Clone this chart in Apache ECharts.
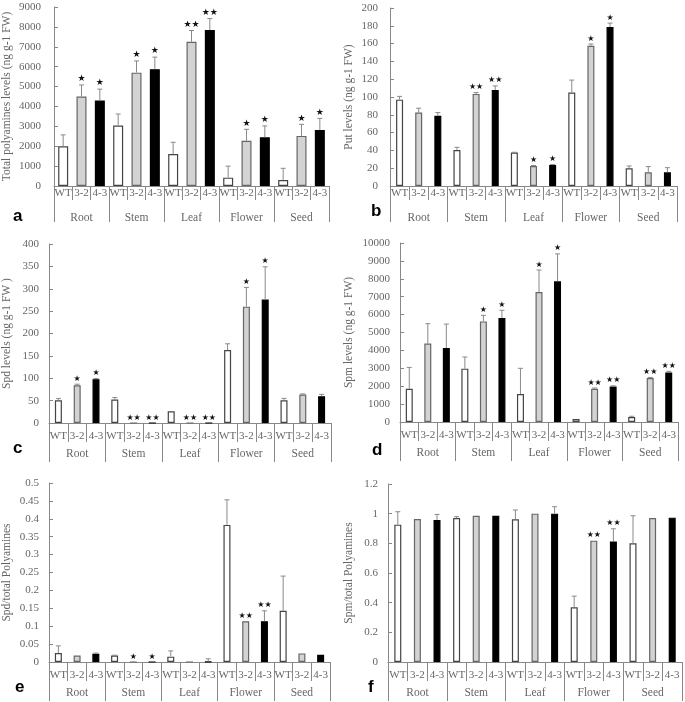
<!DOCTYPE html>
<html>
<head>
<meta charset="utf-8">
<title>Polyamines</title>
<script src="https://cdn.jsdelivr.net/npm/echarts@6/dist/echarts.min.js"></script>
<style>
  html, body { margin: 0; padding: 0; background: #fff; }
  #main { width: 685px; height: 702px; }
</style>
</head>
<body>
<div id="main"></div>
<script>
// categories
var groups = ['Root', 'Stem', 'Leaf', 'Flower', 'Seed'];
var lines = ['WT', '3-2', '4-3'];
var subLabels = [];
groups.forEach(function () { subLabels = subLabels.concat(lines); });

// a: total polyamines
var totalMean = [2000, 4500, 4300, 3040, 5700, 5870, 1610, 7250, 7840, 420, 2270, 2450, 300, 2520, 2820];
var totalSd   = [570, 580, 570, 580, 590, 610, 590, 570, 580, 580, 580, 570, 590, 580, 580];
var totalSig  = ['', '*', '*', '', '*', '*', '', '**', '**', '', '*', '*', '', '*', '*'];

// b: Put
var putMean = [97, 82.5, 78.8, 40.5, 103.5, 108, 37.5, 22.5, 23.6, 105, 157.6, 178.6, 19.9, 15.4, 15.4];
var putSd   = [3.7, 4.9, 3.7, 3, 1.5, 4.5, 0.4, 0.5, 0.5, 14, 1.9, 4.4, 2.6, 6.4, 5.2];
var putSig  = ['', '', '', '', '**', '**', '', '*', '*', '', '*', '*', '', '', ''];

// c: Spd
var spdMean = [50.8, 84.5, 98, 52.3, 0, 0, 26, 0, 0, 163, 260, 276, 51, 63.5, 60];
var spdSd   = [3.8, 2.2, 1.4, 4.5, 0, 0, 0, 0, 0, 14, 43, 73, 4, 1.5, 4];
var spdSig  = ['', '*', '*', '', '**', '**', '', '**', '**', '', '*', '*', '', '', ''];

// d: Spm
var spmMean = [1860, 4380, 4130, 2980, 5620, 5810, 1560, 7260, 7860, 170, 1860, 1990, 280, 2460, 2770];
var spmSd   = [1190, 1110, 1340, 650, 340, 430, 1440, 1230, 1530, 0, 40, 30, 40, 30, 60];
var spmSig  = ['', '', '', '', '*', '*', '', '*', '*', '', '**', '**', '', '**', '**'];

// e: Spd / total
var spdRatioMean = [0.025, 0.018, 0.023, 0.018, 0, 0, 0.015, 0, 0.001, 0.383, 0.114, 0.114, 0.143, 0.024, 0.02];
var spdRatioSd   = [0.02, 0, 0.002, 0.001, 0, 0, 0.016, 0, 0.008, 0.07, 0, 0.029, 0.097, 0, 0];
var spdRatioSig  = ['', '', '', '', '*', '*', '', '', '', '', '**', '**', '', '', ''];

// f: Spm / total
var spmRatioMean = [0.926, 0.964, 0.957, 0.97, 0.986, 0.986, 0.962, 1.0, 1.0, 0.369, 0.818, 0.813, 0.80, 0.97, 0.973];
var spmRatioSd   = [0.087, 0, 0.038, 0.01, 0, 0, 0.063, 0, 0.047, 0.075, 0, 0.085, 0.186, 0, 0];
var spmRatioSig  = ['', '', '', '', '', '', '', '', '', '', '**', '**', '', '', ''];

var serif = "'Liberation Serif', 'Times New Roman', serif";
var txtColor = '#666';
var axisColor = '#888';
var fills = ['#ffffff', '#d3d3d3', '#000000'];
var borders = ['#444444', '#666666', '#000000'];

var panels = [
  { letter: 'a', lx: 13, ly: 218, mean: totalMean, sd: totalSd, sig: totalSig, name: 'Total polyamines levels (ng g-1 FW)',
    max: 9000, interval: 1000, left: 49, top: 7, width: 280, height: 179, barW: 10, nameGap: 41, labMargin: 13,
    subMargin: 2, subTick: 14, groupTick: 36, groupMargin: 26, star: 9 },
  { letter: 'b', lx: 371, ly: 213, mean: putMean, sd: putSd, sig: putSig, name: 'Put levels (ng g-1 FW)',
    max: 200, interval: 20, left: 390, top: 8, width: 287, height: 178, barW: 7, nameGap: 35, labMargin: 12,
    subMargin: 2, subTick: 14, groupTick: 36, groupMargin: 26, star: 8 },
  { letter: 'c', lx: 13, ly: 450, mean: spdMean, sd: spdSd, sig: spdSig, name: 'Spd levels (ng g-1 FW )',
    max: 400, interval: 50, left: 43, top: 244, width: 288, height: 179, barW: 7, nameGap: 36, labMargin: 10,
    subMargin: 8, subTick: 19, groupTick: 39, groupMargin: 25, star: 8 },
  { letter: 'd', lx: 372, ly: 452, mean: spmMean, sd: spmSd, sig: spmSig, name: 'Spm levels (ng g-1 FW)',
    max: 10000, interval: 1000, left: 400, top: 243, width: 278, height: 179, barW: 7, nameGap: 45, labMargin: 10,
    subMargin: 8, subTick: 19, groupTick: 39, groupMargin: 25, star: 8 },
  { letter: 'e', lx: 15, ly: 689, mean: spdRatioMean, sd: spdRatioSd, sig: spdRatioSig, name: 'Spd/total Polyamines',
    max: 0.5, interval: 0.05, left: 43, top: 483, width: 287, height: 179, barW: 7, nameGap: 36, labMargin: 10,
    subMargin: 8, subTick: 19, groupTick: 39, groupMargin: 25, star: 8 },
  { letter: 'f', lx: 368, ly: 689, mean: spmRatioMean, sd: spmRatioSd, sig: spmRatioSig, name: 'Spm/total Polyamines',
    max: 1.2, interval: 0.2, left: 388, top: 484, width: 294, height: 178, barW: 7, nameGap: 33, labMargin: 10,
    subMargin: 8, subTick: 19, groupTick: 39, groupMargin: 25, star: 8 }
];

// plain numbers, no thousands separator
function plainNumber(v) {
  return String(parseFloat(Number(v).toFixed(4)));
}

var grid = [], xAxis = [], yAxis = [], series = [], graphic = [];

panels.forEach(function (p, k) {
  grid.push({ left: p.left, top: p.top, width: p.width, height: p.height, containLabel: false });

  // sample line axis
  xAxis.push({
    type: 'category', gridIndex: k, position: 'bottom', data: subLabels,
    axisLine: { show: true, lineStyle: { color: axisColor, width: 1 } },
    axisTick: { show: true, interval: 0, length: p.subTick, lineStyle: { color: axisColor } },
    axisLabel: { interval: 0, margin: p.subMargin, color: txtColor, fontFamily: serif, fontSize: 11 },
    splitLine: { show: false }
  });
  // tissue group axis
  xAxis.push({
    type: 'category', gridIndex: k, position: 'bottom', data: groups,
    axisLine: { show: false },
    axisTick: { show: true, interval: 0, length: p.groupTick, lineStyle: { color: axisColor } },
    axisLabel: { interval: 0, margin: p.groupMargin, color: txtColor, fontFamily: serif, fontSize: 11.5 },
    splitLine: { show: false }
  });

  yAxis.push({
    type: 'value', gridIndex: k, min: 0, max: p.max, interval: p.interval,
    name: p.name, nameLocation: 'middle', nameGap: p.nameGap, nameRotate: 90,
    nameTextStyle: { color: txtColor, fontFamily: serif, fontSize: 11.5 },
    axisLine: { show: true, lineStyle: { color: axisColor, width: 1 } },
    axisTick: { show: true, inside: true, length: 4, lineStyle: { color: axisColor } },
    axisLabel: { color: txtColor, fontFamily: serif, fontSize: 11, margin: p.labMargin, formatter: plainNumber },
    splitLine: { show: false }
  });

  series.push({
    type: 'bar', xAxisIndex: 2 * k, yAxisIndex: k, barWidth: p.barW,
    data: p.mean.map(function (v, i) {
      return { value: v, itemStyle: { color: fills[i % 3], borderColor: borders[i % 3], borderWidth: 1.2 } };
    }),
    silent: true, animation: false
  });

  // error bars + significance stars
  series.push({
    type: 'custom', xAxisIndex: 2 * k, yAxisIndex: k, z: 5, silent: true, animation: false,
    data: p.mean.map(function (v, i) { return [i, v, p.sd[i]]; }),
    renderItem: function (params, api) {
      var i = api.value(0), m = api.value(1), s = api.value(2);
      var base = api.coord([i, m]);
      var top = api.coord([i, m + s]);
      var kids = [];
      if (s > 0) {
        kids.push({ type: 'line', shape: { x1: base[0], y1: base[1], x2: top[0], y2: top[1] },
          style: { stroke: '#8a8a8a', lineWidth: 1 } });
        kids.push({ type: 'line', shape: { x1: top[0] - 2.5, y1: top[1], x2: top[0] + 2.5, y2: top[1] },
          style: { stroke: '#8a8a8a', lineWidth: 1 } });
      }
      var sig = p.sig[params.dataIndex];
      if (sig) {
        kids.push({ type: 'text', style: {
          text: sig === '**' ? '\u2605\u2605' : '\u2605', x: top[0], y: top[1] - 1.5,
          align: 'center', verticalAlign: 'bottom', fill: '#111',
          fontSize: p.star, fontFamily: 'DejaVu Sans' } });
      }
      return { type: 'group', children: kids };
    }
  });

  graphic.push({ type: 'text', left: p.lx, top: p.ly - 10,
    style: { text: p.letter, fill: '#000', fontSize: 17, fontWeight: 'bold', fontFamily: "'Liberation Sans', Arial, sans-serif" } });
});

var chart = echarts.init(document.getElementById('main'));
chart.setOption({
  animation: false,
  grid: grid,
  xAxis: xAxis,
  yAxis: yAxis,
  series: series,
  graphic: graphic
});
</script>
</body>
</html>
